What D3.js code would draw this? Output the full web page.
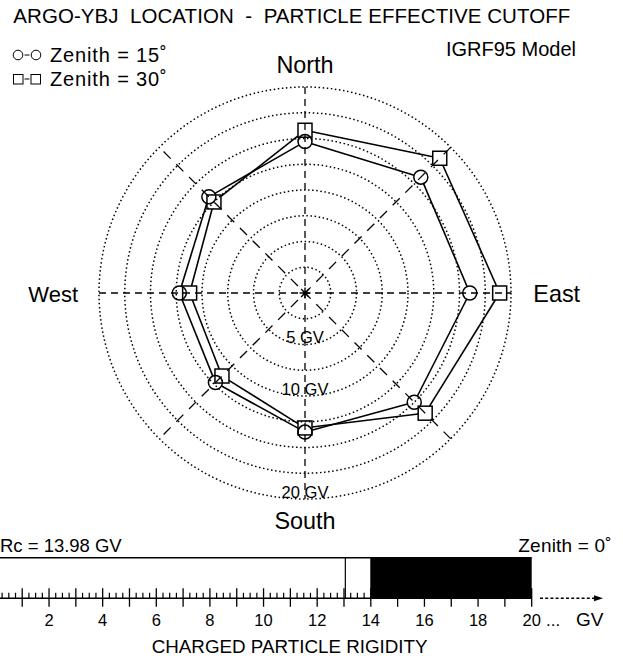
<!DOCTYPE html>
<html>
<head>
<meta charset="utf-8">
<script src="https://cdn.jsdelivr.net/npm/d3@7"></script>
<style>
  html, body { margin: 0; padding: 0; background: #fff; }
  svg { display: block; }
  text { font-family: "Liberation Sans", Arial, Helvetica, sans-serif; fill: #000; white-space: pre; }
</style>
</head>
<body>
<svg id="chart" width="623" height="660"></svg>
<script>
// ---------------- data ----------------
const directions = ["N", "NE", "E", "SE", "S", "SW", "W", "NW"];
const azimuths = [0, 45, 90, 135, 180, 225, 270, 315];
const cutoffZenith15 = [14.7, 15.9, 16.0, 15.0, 13.5, 12.3, 12.2, 13.2];
const cutoffZenith30 = [15.8, 18.5, 18.9, 16.5, 13.1, 11.4, 11.2, 12.5];
const ringValues = [2.5, 5, 7.5, 10, 12.5, 15, 17.5, 20];
const ringLabels = ["5 GV", "10 GV", "20 GV"];
const ringLabelValues = [5, 10, 20];
const compassLabels = ["North", "East", "South", "West"];
const rigidityTicks = [2, 4, 6, 8, 10, 12, 14, 16, 18, 20];
const rcVertical = 13.98;
const lowerMark = 13.05;
const rigidityMax = 20;
const title = "ARGO-YBJ  LOCATION  -  PARTICLE EFFECTIVE CUTOFF";
const legendLabels = ["Zenith = 15˚", "Zenith = 30˚"];

// ---------------- setup ----------------
const svg = d3.select("#chart");
const cx = 305, cy = 293, R = 206;
const rScale = d3.scaleLinear().domain([0, 20]).range([0, R]);
const pt = (v, az) => {
  const a = az * Math.PI / 180;
  return [cx + rScale(v) * Math.sin(a), cy - rScale(v) * Math.cos(a)];
};

// title & legend
svg.append("text").attr("x", 13.3).attr("y", 23).attr("font-size", 20.5)
  .attr("textLength", 557).attr("lengthAdjust", "spacing").text(title);
svg.append("text").attr("x", 446).attr("y", 55.5).attr("font-size", 20)
  .attr("textLength", 130).attr("lengthAdjust", "spacing").text("IGRF95 Model");

const lg = svg.append("g").attr("fill", "none").attr("stroke", "#000").attr("stroke-width", 1);
lg.append("circle").attr("cx", 18).attr("cy", 55).attr("r", 4.8);
lg.append("line").attr("x1", 24.5).attr("x2", 29.5).attr("y1", 55).attr("y2", 55);
lg.append("circle").attr("cx", 36).attr("cy", 55).attr("r", 4.8);
lg.append("rect").attr("x", 13.5).attr("y", 74.5).attr("width", 9.5).attr("height", 9.5);
lg.append("line").attr("x1", 24.5).attr("x2", 29.5).attr("y1", 79).attr("y2", 79);
lg.append("rect").attr("x", 31).attr("y", 74.5).attr("width", 9.5).attr("height", 9.5);
legendLabels.forEach((t, i) => {
  svg.append("text").attr("x", 50).attr("y", 61.5 + i * 24).attr("font-size", 20)
    .attr("textLength", 116.7).attr("lengthAdjust", "spacing").text(t);
});

// rings
const grid = svg.append("g");
grid.selectAll("circle.ring").data(ringValues).join("circle")
  .attr("class", "ring").attr("cx", cx).attr("cy", cy).attr("r", d => rScale(d))
  .attr("fill", "none").attr("stroke", "#000").attr("stroke-width", 1.5)
  .attr("stroke-dasharray", "1.5,2.6");

// axes through center
grid.append("line").attr("x1", cx - R).attr("x2", cx + R).attr("y1", cy).attr("y2", cy)
  .attr("stroke", "#000").attr("stroke-width", 1.3).attr("stroke-dasharray", "7,5");
grid.append("line").attr("x1", cx).attr("x2", cx).attr("y1", cy - R).attr("y2", cy + R)
  .attr("stroke", "#000").attr("stroke-width", 1.3).attr("stroke-dasharray", "7,5");
[45, 135].forEach(az => {
  const p1 = pt(20, az), p2 = pt(20, az + 180);
  grid.append("line").attr("x1", p1[0]).attr("y1", p1[1]).attr("x2", p2[0]).attr("y2", p2[1])
    .attr("stroke", "#000").attr("stroke-width", 1.3).attr("stroke-dasharray", "10,8");
});
// center asterisk
[0, 45, 90, 135].forEach(az => {
  const a = az * Math.PI / 180, s = 5.5;
  grid.append("line")
    .attr("x1", cx - s * Math.sin(a)).attr("y1", cy - s * Math.cos(a))
    .attr("x2", cx + s * Math.sin(a)).attr("y2", cy + s * Math.cos(a))
    .attr("stroke", "#000").attr("stroke-width", 1.4);
});

// ring labels
ringLabels.forEach((t, i) => {
  svg.append("text").attr("x", cx).attr("y", cy + rScale(ringLabelValues[i]) - 1.5)
    .attr("text-anchor", "middle").attr("font-size", 16.5)
    .text(t);
});

// compass labels
svg.append("text").attr("x", cx).attr("y", 73.3).attr("text-anchor", "middle").attr("font-size", 23.4).text(compassLabels[0]);
svg.append("text").attr("x", 533.3).attr("y", 301.7).attr("font-size", 23.4).text(compassLabels[1]);
svg.append("text").attr("x", cx).attr("y", 529).attr("text-anchor", "middle").attr("font-size", 23.4).text(compassLabels[2]);
svg.append("text").attr("x", 28.3).attr("y", 301.7).attr("font-size", 22).text(compassLabels[3]);

// series
function drawSeries(values, type) {
  const pts = values.map((v, i) => pt(v, azimuths[i]));
  const half = 7;
  const edge = (ux, uy) => type === "circle" ? half : half / Math.max(Math.abs(ux), Math.abs(uy));
  const g = svg.append("g");
  pts.forEach((p, i) => {
    const q = pts[(i + 1) % pts.length];
    const dx = q[0] - p[0], dy = q[1] - p[1], L = Math.hypot(dx, dy);
    const ux = dx / L, uy = dy / L, e = edge(ux, uy);
    g.append("line")
      .attr("x1", p[0] + ux * e).attr("y1", p[1] + uy * e)
      .attr("x2", q[0] - ux * e).attr("y2", q[1] - uy * e)
      .attr("stroke", "#000").attr("stroke-width", 1.6);
  });
  if (type === "circle") {
    g.selectAll("circle").data(pts).join("circle")
      .attr("cx", d => d[0]).attr("cy", d => d[1]).attr("r", half)
      .attr("fill", "none").attr("stroke", "#000").attr("stroke-width", 1.5);
  } else {
    g.selectAll("rect").data(pts).join("rect")
      .attr("x", d => d[0] - half).attr("y", d => d[1] - half)
      .attr("width", 2 * half).attr("height", 2 * half)
      .attr("fill", "none").attr("stroke", "#000").attr("stroke-width", 1.5);
  }
}
drawSeries(cutoffZenith15, "circle");
drawSeries(cutoffZenith30, "square");

// ---------------- rigidity bar ----------------
const x = d3.scaleLinear().domain([0, 20]).range([-4.6, 531.7]);
const barTop = 557.7, axisY = 598.3;
svg.append("text").attr("x", 0).attr("y", 552.3).attr("font-size", 18.5)
  .attr("textLength", 121.7).attr("lengthAdjust", "spacing").text("Rc = " + rcVertical.toFixed(2) + " GV");
svg.append("text").attr("x", 518.3).attr("y", 552.3).attr("font-size", 19)
  .attr("textLength", 93.4).attr("lengthAdjust", "spacing").text("Zenith = 0˚");

svg.append("line").attr("x1", 0).attr("x2", x(rigidityMax)).attr("y1", barTop).attr("y2", barTop)
  .attr("stroke", "#000").attr("stroke-width", 1.5);
svg.append("rect").attr("x", x(rcVertical)).attr("y", barTop)
  .attr("width", x(rigidityMax) - x(rcVertical)).attr("height", axisY - barTop).attr("fill", "#000");
svg.append("line").attr("x1", x(lowerMark)).attr("x2", x(lowerMark)).attr("y1", barTop).attr("y2", axisY)
  .attr("stroke", "#000").attr("stroke-width", 1.2);

// minor ticks
const minor = d3.range(0, 80).map(i => i * 0.25).filter(v => v % 1 !== 0 && x(v) >= 0);
svg.selectAll("line.minor").data(minor).join("line").attr("class", "minor")
  .attr("x1", d => x(d)).attr("x2", d => x(d)).attr("y1", axisY).attr("y2", axisY - 5.5)
  .attr("stroke", "#000").attr("stroke-width", 1.2);
// major ticks
const major = d3.range(1, 21);
svg.selectAll("line.major").data(major).join("line").attr("class", "major")
  .attr("x1", d => x(d)).attr("x2", d => x(d)).attr("y1", axisY - 10).attr("y2", axisY + 8.5)
  .attr("stroke", "#000").attr("stroke-width", 1.3);
svg.append("line").attr("x1", 0).attr("x2", x(rigidityMax)).attr("y1", axisY).attr("y2", axisY)
  .attr("stroke", "#000").attr("stroke-width", 1.6);

svg.selectAll("text.tick").data(rigidityTicks).join("text").attr("class", "tick")
  .attr("x", d => x(d)).attr("y", 626).attr("text-anchor", "middle").attr("font-size", 16.5)
  .text(d => d);
svg.append("text").attr("x", 546).attr("y", 626).attr("font-size", 17).text("...");
svg.append("text").attr("x", 603.5).attr("y", 626).attr("font-size", 19)
  .attr("text-anchor", "end").text("GV");

// dotted arrow
svg.append("line").attr("x1", 540).attr("x2", 595).attr("y1", axisY).attr("y2", axisY)
  .attr("stroke", "#000").attr("stroke-width", 1.5).attr("stroke-dasharray", "3,2.2");
svg.append("path").attr("d", `M594,${axisY - 3}L603,${axisY}L594,${axisY + 3}Z`).attr("fill", "#000");

svg.append("text").attr("x", 151.7).attr("y", 653).attr("font-size", 18.8)
  .text("CHARGED PARTICLE RIGIDITY");
</script>
</body>
</html>
